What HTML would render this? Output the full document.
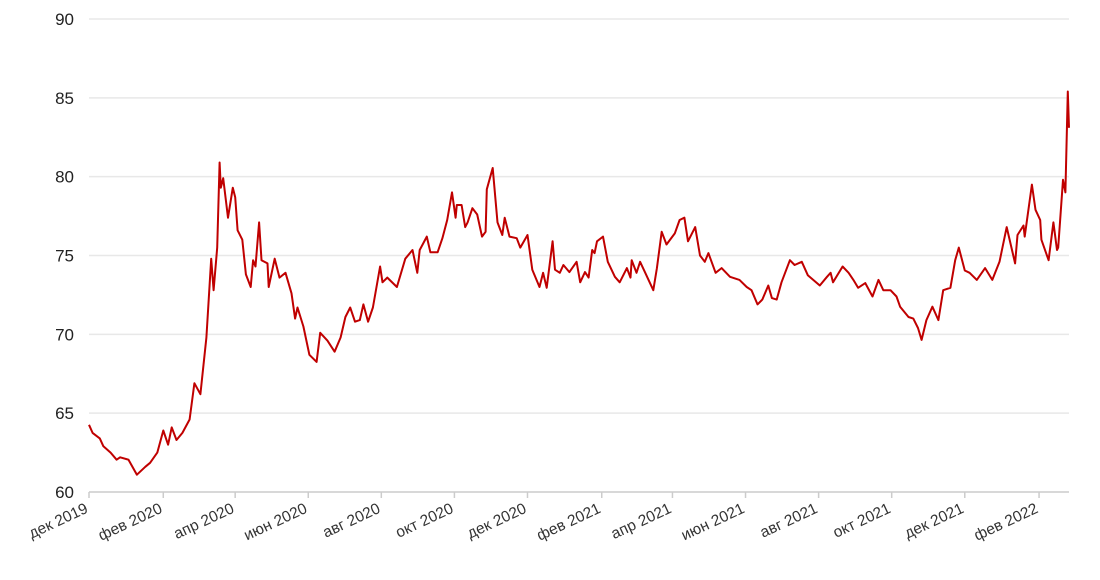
<!DOCTYPE html>
<html><head><meta charset="utf-8"><style>
body{margin:0;background:#fff;}
svg{display:block;font-family:"Liberation Sans",Arial,sans-serif;}
</style></head><body>
<svg id="chart" width="1100" height="580" viewBox="0 0 1100 580" xmlns="http://www.w3.org/2000/svg">
<g id="grid"></g>
<g id="yaxis"></g>
<g id="xaxis"></g>
<g id="series"></g>
</svg>
<script>
const days=[0,3,9,12,18,23,26,33,40,47,51,57,62,66,69,73,78,84,88,93,98,102,104,107,109,110,112,116,120,122,124,128,131,135,137,139,142,144,149,150,155,159,164,169,172,174,179,184,190,193,199,205,210,214,218,222,226,229,233,237,243,245,249,257,264,270,274,276,282,285,291,295,299,303,306,307,311,314,316,320,324,328,331,332,337,341,345,347,351,357,360,366,370,376,379,382,387,389,393,396,401,407,410,414,417,420,422,424,429,433,439,443,449,452,453,457,460,464,471,474,478,482,489,493,497,500,506,510,514,517,523,528,535,543,549,553,558,562,567,570,574,578,585,589,595,600,610,616,619,621,629,634,638,642,648,654,659,663,669,674,677,684,688,692,695,699,704,709,713,719,723,726,731,735,741,748,754,760,766,773,775,780,781,787,790,794,795,801,805,808,809,813,815,817,818];
const values=[64.26,63.75,63.4,62.9,62.5,62.05,62.2,62.05,61.1,61.6,61.85,62.5,63.9,63.0,64.1,63.3,63.75,64.6,66.9,66.2,69.8,74.8,72.8,75.5,80.9,79.3,79.9,77.4,79.3,78.7,76.6,76.0,73.8,73.0,74.7,74.3,77.1,74.7,74.5,73.0,74.8,73.6,73.9,72.6,71.0,71.7,70.5,68.7,68.25,70.1,69.6,68.9,69.8,71.1,71.7,70.8,70.9,71.9,70.8,71.7,74.3,73.3,73.6,73.0,74.8,75.35,73.9,75.35,76.2,75.2,75.2,76.1,77.25,79.0,77.4,78.2,78.2,76.8,77.1,78.0,77.6,76.2,76.5,79.2,80.55,77.1,76.3,77.4,76.2,76.1,75.5,76.3,74.1,73.0,73.9,72.95,75.9,74.1,73.9,74.4,73.95,74.6,73.3,73.95,73.6,75.35,75.15,75.9,76.2,74.6,73.65,73.3,74.2,73.6,74.7,73.9,74.6,73.95,72.8,74.2,76.5,75.7,76.4,77.25,77.4,75.9,76.8,75.0,74.6,75.15,73.9,74.2,73.65,73.45,73.0,72.8,71.9,72.2,73.1,72.3,72.2,73.3,74.7,74.4,74.6,73.75,73.1,73.65,73.9,73.3,74.3,73.9,73.45,72.95,73.25,72.4,73.45,72.8,72.8,72.4,71.75,71.1,71.0,70.4,69.65,70.9,71.75,70.9,72.8,72.95,74.7,75.5,74.05,73.9,73.45,74.2,73.45,74.6,76.8,74.5,76.3,76.9,76.2,79.5,77.9,77.25,76.0,74.7,77.1,75.35,75.5,79.8,79.0,85.4,83.1];
const yTicks=[60,65,70,75,80,85,90];
const xTickDays=[0,62,122,183,244,305,366,428,487,548,609,670,731,793];
const xTickLabels=["дек 2019","фев 2020","апр 2020","июн 2020","авг 2020","окт 2020","дек 2020","фев 2021","апр 2021","июн 2021","авг 2021","окт 2021","дек 2021","фев 2022"];

const NS="http://www.w3.org/2000/svg";
const X0=89,X1=1069,Y0=492,Y1=19,DMAX=818,VMIN=60,VMAX=90;
function xs(d){return X0+(d/DMAX)*(X1-X0);}
function ys(v){return Y0-(v-VMIN)/(VMAX-VMIN)*(Y0-Y1);}
function mk(tag,attrs){const e=document.createElementNS(NS,tag);for(const k in attrs)e.setAttribute(k,attrs[k]);return e;}
const grid=document.getElementById('grid'),ya=document.getElementById('yaxis'),xa=document.getElementById('xaxis'),ser=document.getElementById('series');
yTicks.forEach(v=>{
  if(v!==VMIN){const l=mk('line',{x1:X0,x2:X1,y1:ys(v),y2:ys(v),stroke:'#e8e8e8','stroke-width':1.5});
  
  
  grid.appendChild(l);}
  const t=mk('text',{x:74,y:ys(v)+6,'text-anchor':'end','font-size':17,fill:'#222'});
  t.textContent=v;
  
  
  ya.appendChild(t);
});
const ax=mk('line',{x1:X0,x2:X1,y1:Y0,y2:Y0,stroke:'#ccc','stroke-width':1.5});


xa.appendChild(ax);
xTickDays.forEach((d,i)=>{
  const x=xs(d);
  const tk=mk('line',{x1:x,x2:x,y1:Y0,y2:Y0+6,stroke:'#ccc','stroke-width':1.5});
  
  
  xa.appendChild(tk);
  const t=mk('text',{x:x,y:Y0+20,'text-anchor':'end','font-size':15.5,fill:'#333',transform:`rotate(-25 ${x} ${Y0+20})`});
  t.textContent=xTickLabels[i];
  
  
  xa.appendChild(t);
});
const pts=days.map((d,i)=>xs(d).toFixed(1)+','+ys(values[i]).toFixed(1)).join(' ');
const pl=mk('polyline',{points:pts,fill:'none',stroke:'#c00000','stroke-width':2,'stroke-linejoin':'round'});


ser.appendChild(pl);
</script>
</body></html>
